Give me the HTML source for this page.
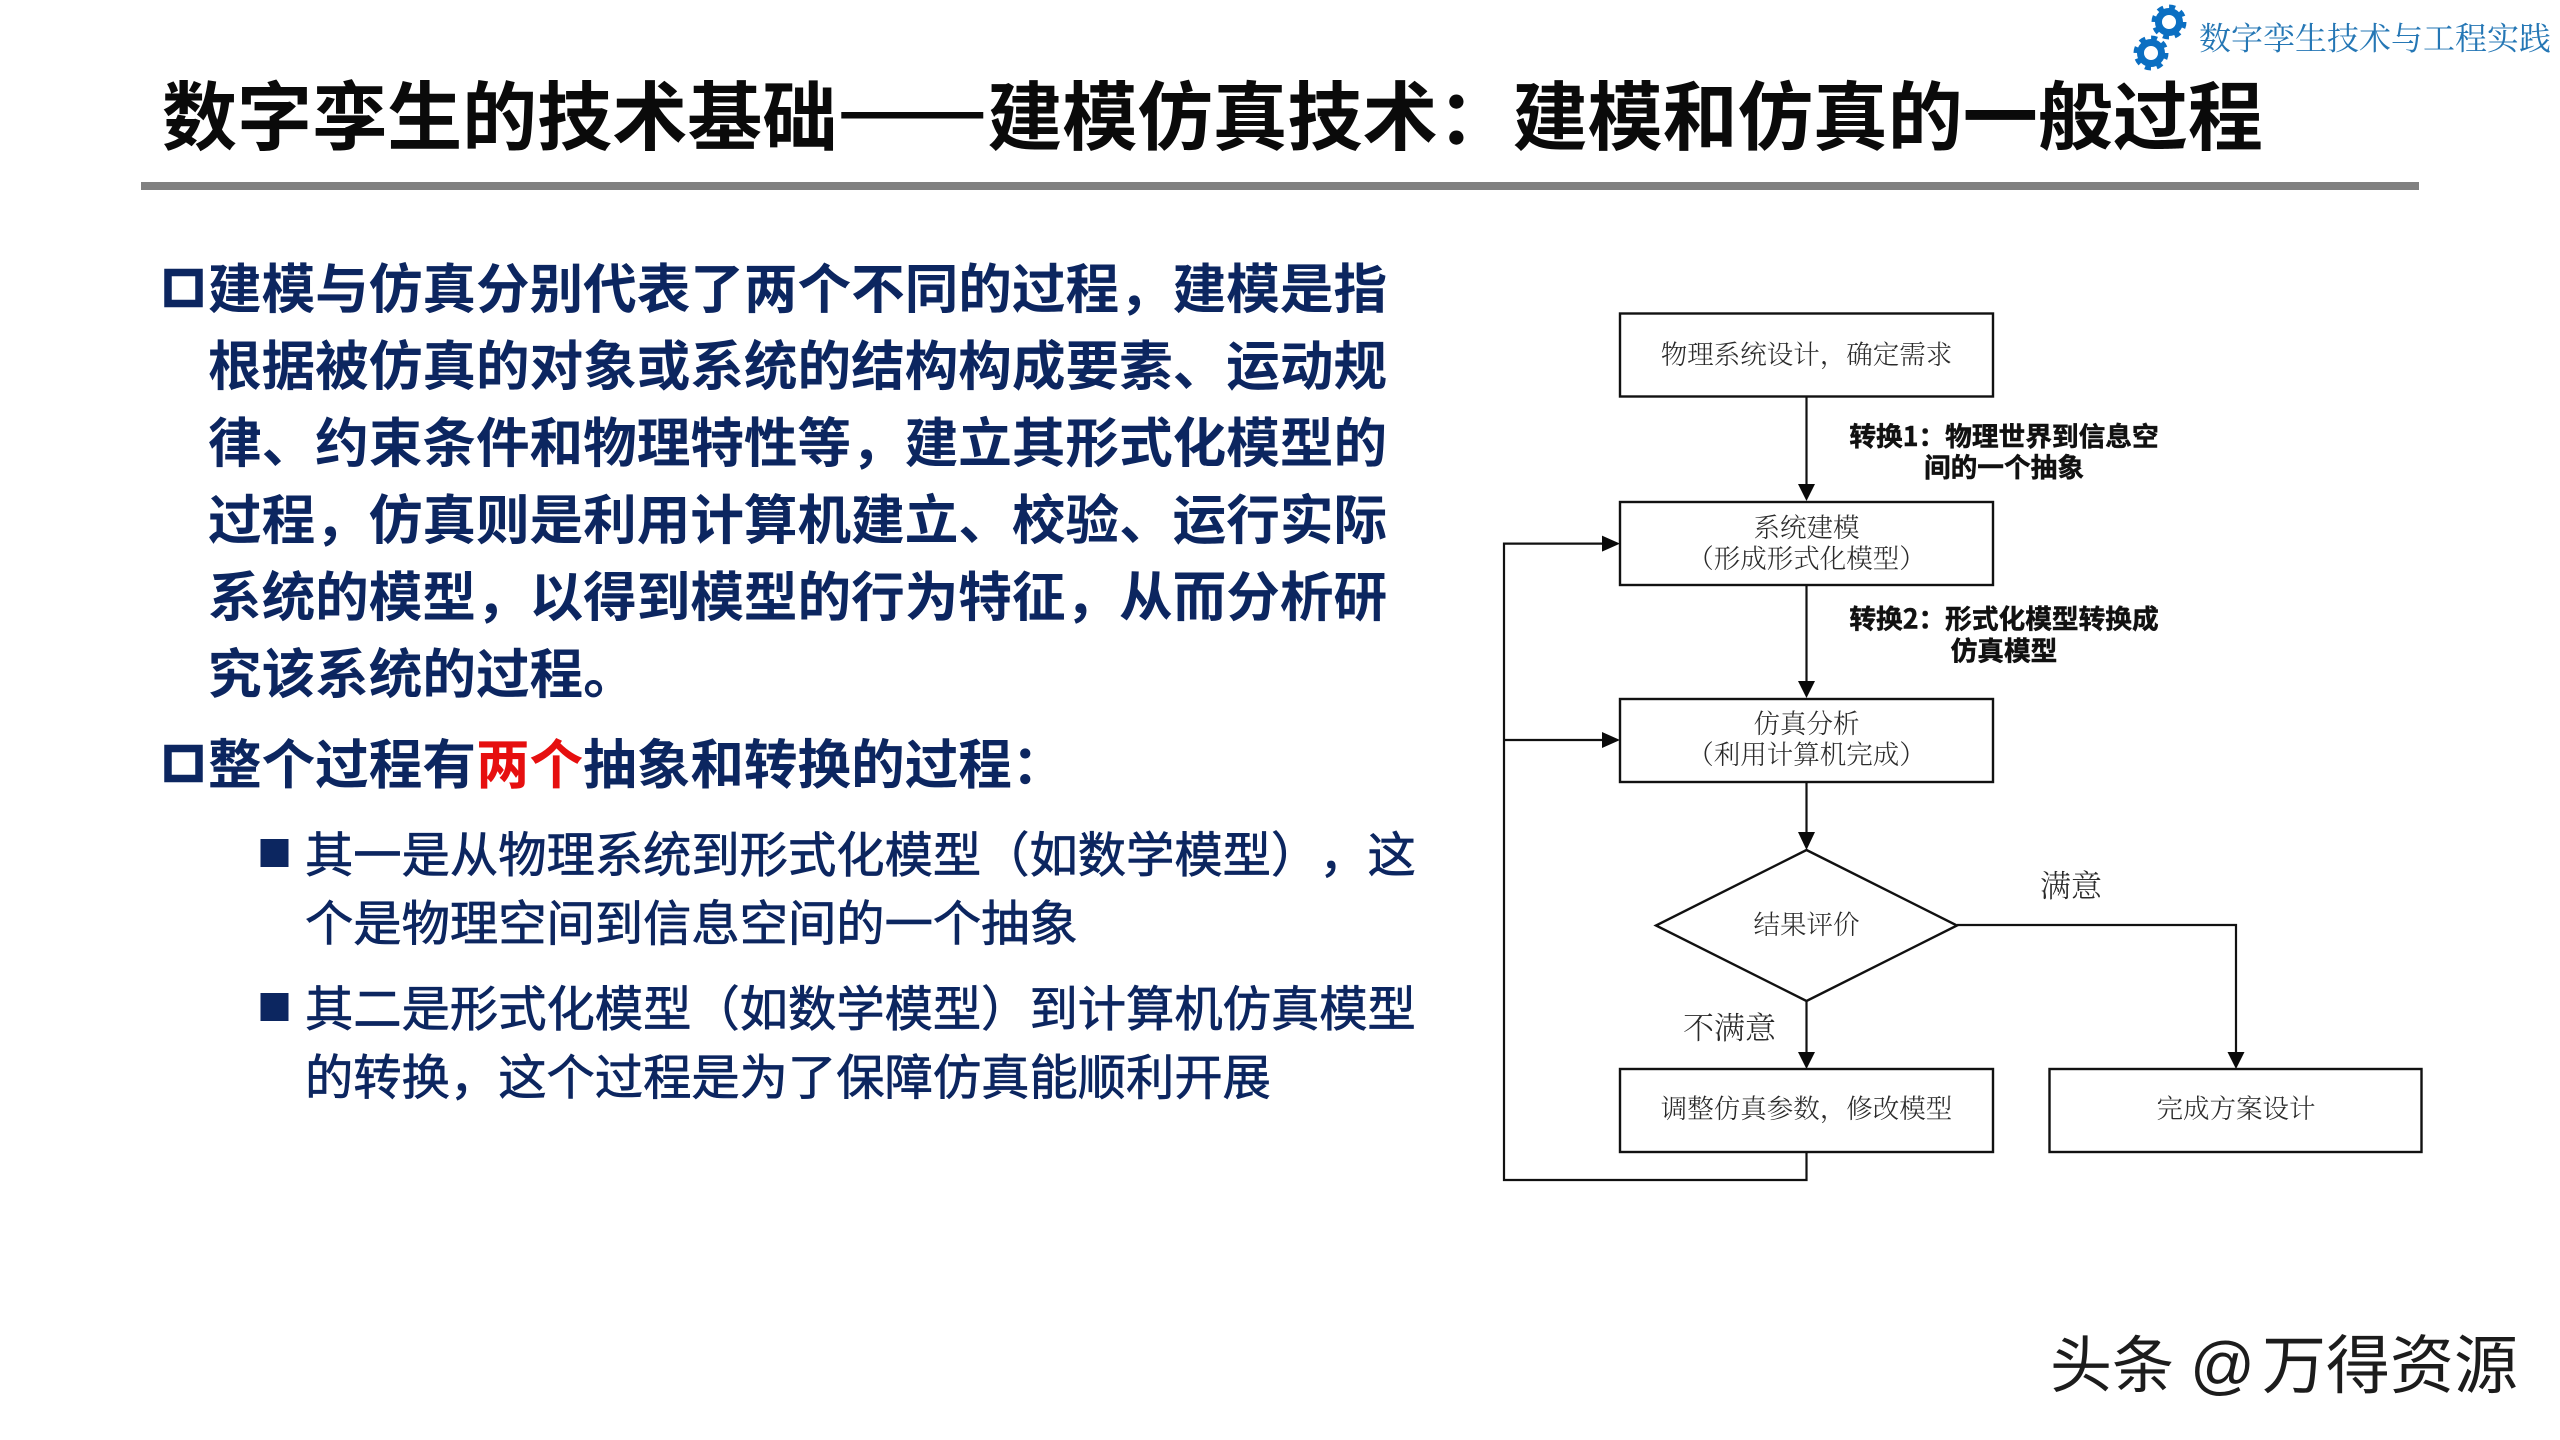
<!DOCTYPE html>
<html lang="zh-CN">
<head>
<meta charset="utf-8">
<title>数字孪生的技术基础</title>
<style>
html,body{margin:0;padding:0;background:#fff;width:2560px;height:1440px;overflow:hidden}
svg{display:block}
text{text-spacing-trim:space-all;font-kerning:none}
.sans{font-family:"Liberation Sans","Noto Sans CJK SC",sans-serif}
.cjk{font-family:"Noto Sans CJK SC","WenQuanYi Zen Hei",sans-serif}
.serif{font-family:"Noto Serif CJK SC","Liberation Serif",serif}
.h{font-size:53.6px;font-weight:700;fill:#0c2660}
.s{font-size:48.3px;font-weight:400;fill:#0c2660;stroke:#0c2660;stroke-width:.7px}
.b{font-size:26.5px;fill:#2a2a2a;font-weight:300;text-anchor:middle}
.l{font-size:26.7px;font-weight:700;fill:#111;stroke:#111;stroke-width:.5px;text-anchor:middle}
.c{font-size:31px;fill:#2a2a2a;font-weight:300}
.box{fill:#fff;stroke:#111;stroke-width:2.4}
.ln{fill:none;stroke:#111;stroke-width:2.2}
</style>
</head>
<body>
<svg xmlns="http://www.w3.org/2000/svg" width="2560" height="1440" viewBox="0 0 2560 1440">
<rect width="2560" height="1440" fill="#fff"/>

<!-- Header -->
<g fill="none" stroke="#0b6fc2">
  <circle cx="2169" cy="22" r="10.5" stroke-width="7"/>
  <circle cx="2169" cy="22" r="15" stroke-width="5" stroke-dasharray="6 5.78"/>
  <circle cx="2151" cy="53" r="10.5" stroke-width="7"/>
  <circle cx="2151" cy="53" r="15" stroke-width="5" stroke-dasharray="6 5.78"/>
</g>
<text class="serif" x="2199" y="49.500" font-size="32" fill="#2577b5">数字孪生技术与工程实践</text>

<text class="cjk" x="162" y="144" font-size="75.04" font-weight="700" fill="#0a0a0a">数字孪生的技术基础<tspan stroke="#0a0a0a" stroke-width="3">——</tspan>建模仿真技术：建模和仿真的一般过程</text>
<rect x="141" y="182" width="2278" height="8" fill="#808080"/>

<!-- Left text -->
<rect x="168" y="272.500" width="31" height="31" fill="none" stroke="#0c2660" stroke-width="7.500"/>
<g class="cjk">
<text class="h" x="208" y="308">建模与仿真分别代表了两个不同的过程，建模是指</text>
<text class="h" x="208" y="385">根据被仿真的对象或系统的结构构成要素、运动规</text>
<text class="h" x="208" y="462">律、约束条件和物理特性等，建立其形式化模型的</text>
<text class="h" x="208" y="539">过程，仿真则是利用计算机建立、校验、运行实际</text>
<text class="h" x="208" y="616">系统的模型，以得到模型的行为特征，从而分析研</text>
<text class="h" x="208" y="693">究该系统的过程。</text>
<text class="h" x="208" y="783.500">整个过程有<tspan fill="#e60f0f">两个</tspan>抽象和转换的过程：</text>
<text class="s" x="305" y="872">其一是从物理系统到形式化模型（如数学模型），这</text>
<text class="s" x="305" y="940.500">个是物理空间到信息空间的一个抽象</text>
<text class="s" x="305" y="1026">其二是形式化模型（如数学模型）到计算机仿真模型</text>
<text class="s" x="305" y="1094.500">的转换，这个过程是为了保障仿真能顺利开展</text>
</g>
<rect x="168" y="748.500" width="31" height="30" fill="none" stroke="#0c2660" stroke-width="7.500"/>
<rect x="260.500" y="839" width="28" height="28" fill="#0c2660"/>
<rect x="260.500" y="993" width="28" height="28" fill="#0c2660"/>

<!-- Flowchart connectors -->
<path class="ln" d="M1806.500 396V486"/>
<path class="ln" d="M1806.500 585V683"/>
<path class="ln" d="M1806.500 782V835"/>
<path class="ln" d="M1806.500 1001V1054"/>
<path class="ln" d="M1957 925H2236V1054"/>
<path class="ln" d="M1806.500 1152V1180H1504V543.600H1605"/>
<path class="ln" d="M1504 740H1605"/>

<g fill="#0a0a0a">
  <path d="M1806.500 501L1798 484H1815Z"/>
  <path d="M1806.500 698L1798 681H1815Z"/>
  <path d="M1806.500 850L1798 832H1815Z"/>
  <path d="M1806.500 1069L1798 1052H1815Z"/>
  <path d="M2236 1069L2227.500 1052H2244.500Z"/>
  <path d="M1620 543.600L1602 535.600V551.600Z"/>
  <path d="M1620 740L1602 732V748Z"/>
</g>

<!-- Flowchart shapes -->
<rect class="box" x="1620" y="313.500" width="373" height="83"/>
<rect class="box" x="1620" y="502" width="373" height="83"/>
<rect class="box" x="1620" y="699" width="373" height="83"/>
<path class="box" d="M1806.500 850L1957 925.500L1806.500 1001L1656 925.500Z"/>
<rect class="box" x="1620" y="1069" width="373" height="83"/>
<rect class="box" x="2049.500" y="1069" width="372" height="83"/>

<!-- Flowchart labels -->
<g class="serif">
<text class="b" x="1806.500" y="364">物理系统设计，确定需求</text>
<text class="b" x="1806.500" y="537">系统建模</text>
<text class="b" x="1806.500" y="568">（形成形式化模型）</text>
<text class="b" x="1806.500" y="733">仿真分析</text>
<text class="b" x="1806.500" y="764">（利用计算机完成）</text>
<text class="b" x="1806.500" y="934">结果评价</text>
<text class="b" x="1806.500" y="1118">调整仿真参数，修改模型</text>
<text class="b" x="2236" y="1118">完成方案设计</text>
<text class="c" x="2040" y="897">满意</text>
<text class="c" x="1683" y="1039">不满意</text>
</g>
<g class="cjk">
<text class="l" x="2004" y="446">转换1：物理世界到信息空</text>
<text class="l" x="2004" y="477">间的一个抽象</text>
<text class="l" x="2004" y="628.500">转换2：形式化模型转换成</text>
<text class="l" x="2004" y="660.500">仿真模型</text>
</g>

<!-- Watermark -->
<g class="cjk" fill="#1c1c1c" font-weight="400">
<text x="2050" y="1387" font-size="62">头条</text>
<text x="2190" y="1387" font-size="64" font-family="Liberation Sans, sans-serif">@</text>
<text x="2262" y="1388" font-size="64">万得资源</text>
</g>
</svg>
</body>
</html>
